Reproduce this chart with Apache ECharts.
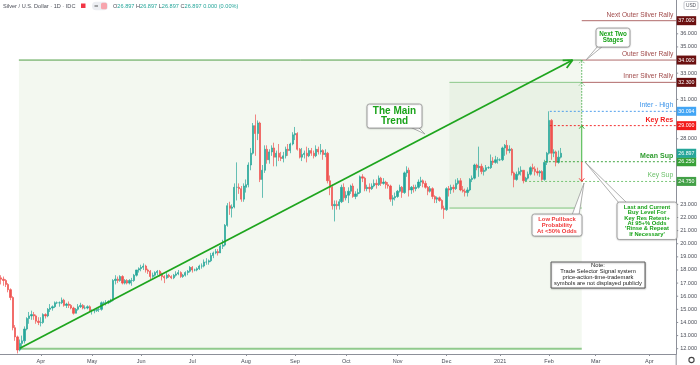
<!DOCTYPE html>
<html><head><meta charset="utf-8">
<script src="https://cdn.jsdelivr.net/npm/echarts@6/dist/echarts.min.js"></script>
<style>html,body{margin:0;padding:0;background:#fff}#c{width:700px;height:365px}</style>
</head><body><div id="c"></div>
<script>
// ---------- categories (weekday sessions) ----------
const START = [2020, 2, 9];   // 2020-03-09
const NCAT = 290;
const MONTHS = ['Jan','Feb','Mar','Apr','May','Jun','Jul','Aug','Sep','Oct','Nov','Dec'];

// ---------- OHLC data per month : [open, close, low, high] ----------
const mar20 = [[17.4,17.3,16.9,17.6],[17.3,17.2,16.8,17.5],[17.2,16.9,16.7,17.3],[16.9,16.5,16.3,17.0],[16.5,15.9,15.7,16.6],
[15.9,13.6,13.4,16.0],[13.6,12.9,12.6,13.8],[12.9,11.9,11.64,13.0],[11.9,12.4,11.8,12.7],[12.4,12.6,12.0,13.0],
[12.6,13.5,12.4,13.7],[13.5,14.3,13.4,14.4],[14.3,14.5,13.9,14.8],[14.5,14.6,14.2,14.9],[14.6,14.5,14.2,14.8],
[14.5,14.1,13.9,14.6],[14.1,14.0,13.8,14.4]];
const apr20 = [[14.0,14.0,13.7,14.4],[14.0,14.6,13.9,14.7],[14.6,14.5,14.3,14.7],[14.5,15.0,14.4,15.1],[15.0,15.1,14.8,15.4],
[15.1,15.2,14.9,15.3],[15.2,15.5,15.1,15.6],[15.5,15.5,15.4,15.6],[15.5,15.5,15.2,15.6],[15.5,15.7,15.4,15.9],
[15.7,15.3,15.2,15.8],[15.3,15.4,15.1,15.5],[15.4,15.3,15.1,15.6],[15.3,15.1,15.0,15.4],[15.1,14.7,14.6,15.2],
[14.7,15.0,14.7,15.1],[15.0,15.2,14.9,15.4],[15.2,15.3,15.1,15.5],[15.3,15.1,15.0,15.4],[15.1,15.1,15.0,15.3],
[15.1,15.2,15.0,15.3],[15.2,14.9,14.8,15.3]];
const may20 = [[14.9,14.9,14.6,15.0],[14.9,14.9,14.7,15.0],[14.9,15.0,14.8,15.1],[15.0,15.0,14.8,15.1],[15.0,15.5,14.9,15.6],
[15.5,15.5,15.4,15.6],[15.5,15.5,15.3,15.7],[15.5,15.6,15.4,15.7],[15.6,15.7,15.5,15.8],[15.7,17.2,15.6,17.3],
[17.2,17.3,16.9,17.6],[17.3,17.2,17.0,17.5],[17.2,17.5,17.1,17.6],[17.5,17.0,16.9,17.6],[17.0,17.2,16.9,17.3],
[17.2,17.0,16.9,17.3],[17.0,17.2,16.9,17.3],[17.2,17.2,16.8,17.4],[17.2,17.6,17.1,17.7],[17.6,18.0,17.5,18.0],
[18.0,18.1,17.8,18.2]];
const jun20 = [[18.1,18.2,17.9,18.4],[18.2,18.3,18.0,18.5],[18.3,18.0,17.8,18.4],[18.0,17.9,17.7,18.1],[17.9,17.5,17.3,18.0],
[17.5,17.6,17.4,17.8],[17.6,17.8,17.5,17.9],[17.8,17.9,17.6,18.0],[17.9,17.7,17.5,18.0],[17.7,17.5,17.2,17.8],
[17.5,17.4,17.0,17.6],[17.4,17.6,17.3,17.8],[17.6,17.5,17.4,17.7],[17.5,17.4,17.3,17.6],[17.4,17.6,17.3,17.7],
[17.6,17.7,17.5,17.9],[17.7,17.8,17.6,18.0],[17.8,17.5,17.4,17.9],[17.5,17.6,17.4,17.7],[17.6,17.8,17.5,17.9],
[17.8,17.9,17.6,18.0],[17.9,18.2,17.8,18.3]];
const jul20 = [[18.2,18.0,17.8,18.3],[18.0,18.0,17.9,18.1],[18.0,18.1,17.9,18.2],[18.1,18.3,18.0,18.4],[18.3,18.3,18.1,18.5],
[18.3,18.6,18.2,18.8],[18.6,18.6,18.4,18.9],[18.6,18.7,18.4,18.8],[18.7,19.1,18.6,19.3],[19.1,19.3,18.9,19.4],
[19.3,19.4,19.2,19.6],[19.4,19.3,19.1,19.6],[19.3,19.8,19.3,19.9],[19.8,19.9,19.6,20.3],[19.9,21.4,19.8,21.5],
[21.4,22.9,21.3,23.1],[22.9,22.7,22.2,23.2],[22.7,22.8,22.0,23.0],[22.8,24.3,22.7,24.6],[24.3,24.3,23.3,26.2],
[24.3,24.2,23.8,24.6],[24.2,23.4,23.2,24.4],[23.4,24.4,23.2,24.6]];
const aug20 = [[24.3,24.5,23.9,24.9],[24.5,26.0,24.3,26.2],[26.0,26.9,25.6,27.3],[26.9,29.0,26.8,29.2],[29.0,28.4,26.7,29.85],
[28.4,29.2,27.9,29.4],[29.2,24.9,24.7,29.3],[24.9,25.6,23.5,26.0],[25.6,27.2,25.4,27.5],[27.2,26.4,26.1,27.5],
[26.4,27.0,26.1,27.2],[27.0,27.3,26.7,27.5],[27.3,26.6,25.9,27.7],[26.6,26.9,25.9,27.1],[26.9,26.6,26.3,27.6],
[26.6,26.5,26.3,27.0],[26.5,26.7,26.2,27.0],[26.7,27.2,26.5,27.4],[27.2,27.1,26.7,27.6],[27.1,27.6,26.9,27.7],
[27.6,28.3,27.5,28.5]];
const sep20 = [[28.3,28.4,27.9,28.9],[28.4,27.2,27.1,28.5],[27.2,26.6,26.5,27.3],[26.6,26.8,26.3,27.3],[26.8,26.9,26.5,27.1],
[26.9,26.7,26.2,27.4],[26.7,27.1,26.6,27.3],[27.1,26.9,26.7,27.3],[26.9,26.7,26.5,27.1],[26.7,27.2,26.6,27.5],
[27.2,27.0,26.8,27.4],[27.0,27.1,26.8,27.6],[27.1,26.8,26.4,27.2],[26.8,26.9,26.6,27.2],[26.9,24.8,24.6,27.0],
[24.8,24.3,23.7,25.2],[24.3,22.9,22.6,24.5],[22.9,23.0,21.7,23.3],[23.0,22.9,22.6,23.3],[22.9,23.2,22.6,23.4],
[23.2,24.3,23.1,24.5],[24.3,23.5,23.2,24.6]];
const oct20 = [[23.5,23.7,23.3,24.0],[23.7,24.0,23.1,24.3],[24.0,24.4,23.8,24.5],[24.4,23.6,23.5,24.6],[23.6,23.8,23.4,24.0],
[23.8,23.9,23.6,24.2],[23.9,25.1,23.8,25.2],[25.1,25.0,24.7,25.3],[25.0,24.2,24.0,25.1],[24.2,24.3,24.0,24.5],
[24.3,24.2,23.9,24.6],[24.2,24.4,24.1,24.6],[24.4,24.6,24.3,24.9],[24.6,24.5,24.2,24.9],[24.5,25.0,24.4,25.2],
[25.0,24.6,24.4,25.1],[24.6,24.7,24.5,25.0],[24.7,24.5,24.2,24.8],[24.5,24.4,24.2,24.7],[24.4,23.4,23.2,24.5],
[23.4,23.5,22.9,23.7],[23.5,23.6,23.3,23.9]];
const nov20 = [[23.6,24.0,23.5,24.1],[24.0,24.3,23.9,24.5],[24.3,23.9,23.5,24.4],[23.9,25.4,23.8,25.5],[25.4,25.6,25.1,25.9],
[25.6,24.1,23.6,25.8],[24.1,24.3,23.8,24.4],[24.3,24.2,23.9,24.5],[24.2,24.3,24.0,24.5],[24.3,24.7,24.2,24.9],
[24.7,24.8,24.4,25.1],[24.8,24.6,24.3,24.9],[24.6,24.3,24.2,24.8],[24.3,24.0,23.7,24.4],[24.0,24.2,23.9,24.4],
[24.2,23.6,23.4,24.3],[23.6,23.4,23.1,23.7],[23.4,23.5,23.1,23.6],[23.5,23.3,23.2,23.6],[23.3,22.7,22.6,23.4],
[22.7,22.6,21.9,22.9]];
const dec20 = [[22.6,24.2,22.5,24.3],[24.2,24.1,23.6,24.4],[24.1,24.3,23.8,24.5],[24.3,24.2,23.9,24.5],[24.2,24.6,24.1,24.9],
[24.6,24.8,24.5,25.0],[24.8,24.1,24.0,25.0],[24.1,24.0,23.9,24.4],[24.0,23.9,23.6,24.2],[23.9,24.1,23.6,24.3],
[24.1,24.9,24.0,25.0],[24.9,25.0,24.7,25.2],[25.0,26.0,24.9,26.1],[26.0,25.8,25.6,26.1],[25.8,25.9,25.1,27.4],
[25.9,25.5,25.3,26.1],[25.5,25.6,25.2,25.8],[25.6,25.8,25.5,26.0],[25.8,25.8,25.7,25.9],[25.8,26.3,25.7,26.8],
[26.3,26.2,26.0,26.6],[26.2,26.4,26.1,26.7],[26.4,26.4,26.1,26.6]];
const jan21 = [[26.4,26.4,26.3,26.5],[26.4,27.3,26.3,27.4],[27.3,27.5,26.7,27.6],[27.5,27.1,26.8,27.9],[27.1,27.2,26.9,27.5],
[27.2,25.4,25.2,27.3],[25.4,24.9,24.3,25.5],[24.9,25.3,24.8,25.5],[25.3,25.5,25.2,25.8],[25.5,25.6,25.2,25.9],
[25.6,24.8,24.6,25.6],[24.8,25.0,24.7,25.1],[25.0,25.3,24.9,25.5],[25.3,25.8,25.2,25.9],[25.8,25.7,25.5,26.1],
[25.7,25.5,25.2,25.9],[25.5,25.4,25.2,25.8],[25.4,25.5,25.1,25.6],[25.5,24.9,24.8,25.6],[24.9,26.2,24.8,26.4],
[26.2,26.9,26.0,27.0]];
const feb21 = [[26.9,29.4,26.8,30.094],[29.4,26.9,26.4,29.5],[26.9,27.0,26.6,27.2],[27.0,26.2,25.9,27.1],[26.2,26.6,26.1,27.1],
[26.6,26.897,26.5,27.3]];

// ---------- axis tick labels ----------
const priceTicks = [12,13,14,15,16,17,18,19,20,21,22,23,28,31,33,35,36];
const lastPrice = 26.897;

// ---------- annotation levels ----------
const rallyLevels = [
  {text:'Next Outer Silver Rally', value:37.0},
  {text:'Outer Silver Rally', value:34.0},
  {text:'Inner Silver Rally', value:32.3}
];
const keyLevels = [
  {text:'Inter - High', value:30.094, color:'#3d95ea', tag:'#42a5f5', bold:false},
  {text:'Key Res', value:29.0, color:'#f21b1b', tag:'#f21b1b', bold:true},
  {text:'Mean Sup', value:26.25, color:'#2e9c2e', tag:'#38a138', bold:true},
  {text:'Key Sup', value:24.75, color:'#6cc06a', tag:'#43a047', bold:false}
];
const trendStart = 12.03, trendEnd = 34.0, boxBottom = 12.0, boxTop = 34.0;
const innerTop = 32.3, innerBottom = 22.72;

// ---------- build ----------
const candles = [].concat(mar20, apr20, may20, jun20, jul20, aug20, sep20, oct20, nov20, dec20, jan21, feb21);
const cats = [];
{ const d = new Date(Date.UTC(START[0], START[1], START[2]));
  while (cats.length < NCAT) { const w = d.getUTCDay(); if (w !== 0 && w !== 6) cats.push(d.toISOString().slice(0,10)); d.setUTCDate(d.getUTCDate()+1); } }
const monthStart = new Set();
cats.forEach((c,i)=>{ if (i>0 && c.slice(5,7)!==cats[i-1].slice(5,7)) monthStart.add(i); });

const YMIN = 11.596, YMAX = 38.577;
const FONT = '"Liberation Sans", Arial, sans-serif';
const chart = echarts.init(document.getElementById('c'), null, {renderer:'canvas', width:700, height:365});
chart.setOption({
  animation:false,
  backgroundColor:'#ffffff',
  grid:{left:0, right:20, top:0, height:354, containLabel:false},
  xAxis:[{
    type:'category', data:cats, boundaryGap:true,
    axisLine:{lineStyle:{color:'#8d9099', width:1}},
    axisTick:{show:true, interval:(i)=>monthStart.has(i), length:2, alignWithLabel:true, lineStyle:{color:'#8d9099'}},
    axisLabel:{interval:(i)=>monthStart.has(i), fontSize:5.5, color:'#4a4d57', margin:4, fontFamily:FONT,
      formatter:(v)=>{const m=+v.slice(5,7); return m===1? v.slice(0,4) : MONTHS[m-1];}},
    splitLine:{show:false}
  },{type:'value', min:-0.5, max:NCAT-0.5, show:false, gridIndex:0,
     axisLine:{show:false}, axisTick:{show:false}, axisLabel:{show:false}, splitLine:{show:false}}],
  yAxis:{type:'value', position:'right', min:YMIN, max:YMAX, splitLine:{show:false}, minorTick:{show:false},
    axisLine:{show:true, onZero:false, lineStyle:{color:'#8d9099'}},
    axisTick:{show:false},
    axisLabel:{customValues:priceTicks, formatter:(v)=>v.toFixed(3), fontSize:5.5, color:'#4a4d57', margin:4, fontFamily:FONT}},
  series:[{type:'candlestick', data:candles, barWidth:1.7, z:3,
    itemStyle:{color:'#26a69a', color0:'#ef5350', borderColor:'#26a69a', borderColor0:'#ef5350', borderWidth:0.7}}]
});

const X = i => chart.convertToPixel({xAxisIndex:1}, i);
const Y = v => chart.convertToPixel({yAxisIndex:0}, v);
const RIGHT = X(NCAT-0.5);
const G = [];
const ln = (x1,y1,x2,y2,stroke,w,dash,z)=>G.push({type:'line', z:z||6, silent:true, shape:{x1,y1,x2,y2}, style:{stroke, lineWidth:w, lineDash:dash||null}});
const txt = (x,y,text,fill,size,weight,align,z,lh)=>G.push({type:'text', z:z||8, silent:true, style:{x,y,text,fill,fontSize:size,fontWeight:weight||'normal',fontFamily:FONT,align:align||'left',verticalAlign:'middle',lineHeight:lh||size*1.1}});
function arrowHead(tx,ty,ang,len,spread,stroke,w,dash){ // ang: direction of travel (radians)
  for (const s of [-1,1]) { const a = ang + Math.PI + s*spread; ln(tx,ty,tx+len*Math.cos(a),ty+len*Math.sin(a),stroke,w,dash,7); }
}
// price-axis ticks
priceTicks.forEach(v=>ln(RIGHT, Y(v), RIGHT+2, Y(v), '#8d9099', 1, null, 4));

// background boxes
const bx1 = X(7.6), bx2 = X(249);
G.push({type:'rect', z:0, silent:true, shape:{x:bx1, y:Y(boxTop), width:bx2-bx1, height:Y(boxBottom)-Y(boxTop)}, style:{fill:'#f3f8f0'}});
const ix1 = X(192.25);
G.push({type:'rect', z:1, silent:true, shape:{x:ix1, y:Y(innerTop), width:bx2-ix1, height:Y(innerBottom)-Y(innerTop)}, style:{fill:'#e9f2e5'}});
ln(bx1, Y(boxBottom), bx2, Y(boxBottom), '#8fca8c', 2, null, 2);
ln(bx1, Y(boxTop), bx2, Y(boxTop), '#4f9e45', 1, null, 2);
ln(ix1, Y(innerBottom), bx2, Y(innerBottom), '#7cc37a', 1, null, 2);
ln(ix1, Y(innerTop), bx2, Y(innerTop), '#8cc88a', 1, null, 2);

// rally levels
rallyLevels.forEach((l,k)=>{
  ln(bx2, Y(l.value), RIGHT, Y(l.value), '#b06a6a', 1, null, 5);
  txt(RIGHT-3, Y(l.value)-6, l.text, '#a04a4a', 6.6, 'normal', 'right', 8);
});
// key levels (dotted)
const keyFrom = [235.3, 235.3, 233.2, 224.7];
keyLevels.forEach((l,k)=>{
  ln(X(keyFrom[k]), Y(l.value), RIGHT, Y(l.value), l.color, 0.9, [2,2], 5);
  txt(RIGHT-3, Y(l.value)-6, l.text, l.color, l.bold?7:6.8, l.bold?'bold':'normal', 'right', 8);
});

// main trend line
const tx1 = X(8.03), ty1 = Y(trendStart), tx2 = X(245.1), ty2 = Y(trendEnd);
ln(tx1,ty1,tx2,ty2,'#1ea51e',1.8,null,6);
arrowHead(tx2,ty2,Math.atan2(ty2-ty1,tx2-tx1),10,0.45,'#1ea51e',1.8);

// vertical projection arrows
const vx = X(249);
ln(vx, Y(29), vx, Y(34), '#4caf50', 1, [1.5,1.5], 6);
arrowHead(vx, Y(34), -Math.PI/2, 4, 0.7, '#4caf50', 1, [1.5,1.5]);
arrowHead(vx, Y(32.3), -Math.PI/2, 4, 0.7, '#4caf50', 1, [1.5,1.5]);
ln(vx, Y(26.25), vx, Y(29), '#3fb33f', 1, null, 6);
arrowHead(vx, Y(29), -Math.PI/2, 4, 0.7, '#3fb33f', 1);
ln(vx, Y(26.25), vx, Y(24.75), '#f23d3d', 1, null, 6);
arrowHead(vx, Y(24.75), Math.PI/2, 4, 0.7, '#f23d3d', 1);

// callouts
function callout(x,y,w,h,tail,lines,color,size,weight,lh,border){
  G.push({type:'polygon', z:9, silent:true, shape:{points:tail}, style:{fill:'#fff', stroke:border||'#9a9a9a', lineWidth:0.8}});
  G.push({type:'rect', z:10, silent:true, shape:{x,y,width:w,height:h,r:2.5}, style:{fill:'#fff', stroke:border||'#9a9a9a', lineWidth:0.8, shadowBlur:1.5, shadowColor:'rgba(0,0,0,0.25)', shadowOffsetY:0.5}});
  const y0 = y + h/2 - (lines.length-1)*lh/2;
  lines.forEach((t,k)=>txt(x+w/2, y0+k*lh, t, color, size, weight, 'center', 11));
}
callout(367, 104, 55, 24, [[410,127],[418,127],[425,134]], ['The Main','Trend'], '#1aa31a', 10, 'bold', 10.5);
callout(596, 28, 34, 19, [[598,46],[603,46],[586,60]], ['Next Two','Stages'], '#1aa31a', 6.3, 'bold', 6);
callout(617, 202, 60, 37.5, [[619,203],[627,203],[585,162]], ['Last and Current','Buy Level For','Key Res Retest+','At 95+% Odds',"'Rinse & Repeat","If Necessary'"], '#1aa31a', 5.8, 'bold', 5.4);
callout(532, 214, 50, 22, [[572,215],[579,215],[584,183]], ['Low Pullback','Probability','At <50% Odds'], '#f03a3a', 5.9, 'bold', 6);
G.push({type:'rect', z:10, silent:true, shape:{x:551, y:262, width:94, height:26}, style:{fill:'#fff', stroke:'#555', lineWidth:0.9, shadowBlur:1.5, shadowColor:'rgba(0,0,0,0.35)', shadowOffsetX:0.5, shadowOffsetY:0.8}});
['Note:','Trade Selector Signal system','price-action-time-trademark','symbols are not displayed publicly'].forEach((t,k)=>txt(598, 265.5+k*6, t, '#222', 5.8, 'normal', 'center', 11));

// price tags on axis
function tag(v, bg, fg){
  const y = Y(v);
  G.push({type:'rect', z:12, silent:true, shape:{x:RIGHT+0.5, y:y-4.5, width:19.5, height:9}, style:{fill:bg}});
  txt(RIGHT+10.2, y+0.3, v.toFixed(3), fg||'#fff', 5.3, 'normal', 'center', 13);
}
rallyLevels.forEach(l=>tag(l.value, '#6b1010'));
keyLevels.forEach(l=>tag(l.value, l.tag));
tag(lastPrice, '#26a69a');

// USD box & gear
G.push({type:'rect', z:12, silent:true, shape:{x:684, y:1.5, width:14, height:8, r:1.5}, style:{fill:'#fff', stroke:'#b0b3bb', lineWidth:0.7}});
txt(691, 5.8, 'USD', '#50535e', 4.8, 'normal', 'center', 13);
ln(RIGHT, 354, RIGHT, 365, '#8d9099', 1, null, 12);
G.push({type:'circle', z:12, silent:true, shape:{cx:691.5, cy:360, r:2.6}, style:{fill:'none', stroke:'#444', lineWidth:1.1}});

// header
txt(3, 6, 'Silver / U.S. Dollar · 1D · IDC', '#4a4d57', 5.6, 'normal', 'left', 13);
G.push({type:'rect', z:12, silent:true, shape:{x:81, y:3.5, width:4.5, height:4.5}, style:{fill:'#f23645'}});
G.push({type:'rect', z:12, silent:true, shape:{x:92, y:1.8, width:16, height:8.4, r:4}, style:{fill:'#eceef2'}});
ln(94.5, 6, 98, 6, '#444', 0.9, null, 13);
G.push({type:'rect', z:13, silent:true, shape:{x:101, y:2.8, width:6, height:6.4, r:1.5}, style:{fill:'#f7a5ad'}});
G.push({type:'text', z:13, silent:true, style:{x:113, y:6, verticalAlign:'middle', fontSize:5.6, fontFamily:FONT,
  text:'{l|O}{v|26.897} {l|H}{v|26.897} {l|L}{v|26.897} {l|C}{v|26.897} {v|0.000 (0.00%)}',
  rich:{l:{fill:'#4a4d57', fontSize:5.6, fontFamily:FONT}, v:{fill:'#26a69a', fontSize:5.6, fontFamily:FONT}}}});

chart.setOption({graphic:{elements:G}});
</script></body></html>
